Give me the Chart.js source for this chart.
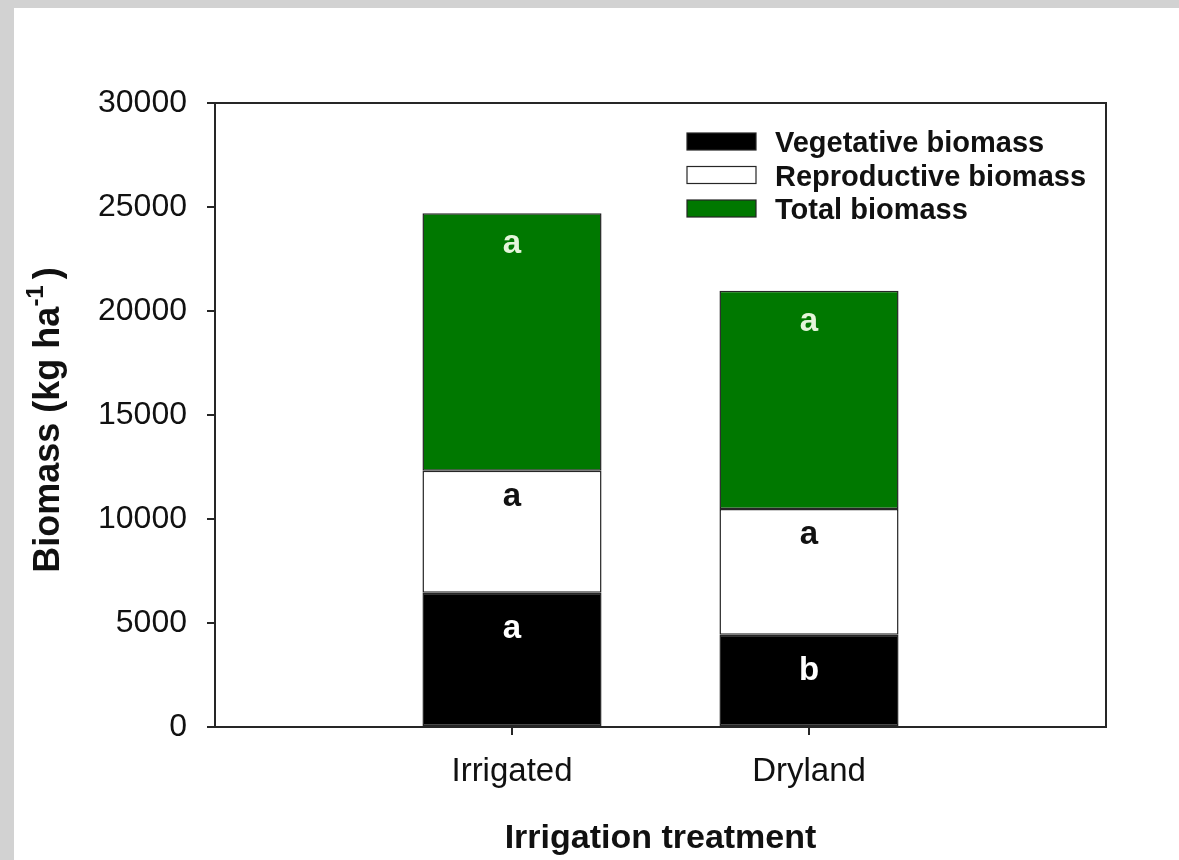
<!DOCTYPE html>
<html>
<head>
<meta charset="utf-8">
<script src="https://cdn.jsdelivr.net/npm/chart.js@4/dist/chart.umd.min.js"></script>
<style>
  html, body { margin: 0; padding: 0; background: #ffffff; }
  #wrap { width: 1179px; height: 860px; position: relative; }
  canvas { display: block; }
</style>
</head>
<body>
<div id="wrap"><canvas id="c" width="1179" height="860"></canvas></div>
<script>
// ---- data ----
const categories = ['', 'Irrigated', 'Dryland', ''];
const vegetative = [null, 6450, 4440, null];
const reproductive = [null, 5870, 6040, null];
const total = [null, 12380, 10490, null];
const vegLetters = ['', 'a', 'b', ''];
const repLetters = ['', 'a', 'a', ''];
const totLetters = ['', 'a', 'a', ''];
const yTicks = [0, 5000, 10000, 15000, 20000, 25000, 30000];
const seriesNames = ['Vegetative biomass', 'Reproductive biomass', 'Total biomass'];
const xTitle = 'Irrigation treatment';

const FONT = "'Liberation Sans', Arial, sans-serif";
const LINE = '#262626';

const bgPlugin = {
  id: 'bg',
  beforeDraw(chart) {
    const ctx = chart.ctx;
    ctx.save();
    ctx.fillStyle = '#ffffff';
    ctx.fillRect(0, 0, chart.width, chart.height);
    ctx.fillStyle = '#d2d2d2';
    ctx.fillRect(0, 0, chart.width, 8);
    ctx.fillRect(0, 0, 14, chart.height);
    ctx.restore();
  }
};

const framePlugin = {
  id: 'frame',
  afterDatasetsDraw(chart) {
    const ctx = chart.ctx, a = chart.chartArea;
    ctx.save();
    ctx.strokeStyle = LINE;
    ctx.lineWidth = 2;
    ctx.beginPath();
    ctx.moveTo(a.left, a.top);
    ctx.lineTo(a.right, a.top);
    ctx.lineTo(a.right, a.bottom);
    ctx.stroke();
    ctx.restore();
  }
};

const letterPlugin = {
  id: 'letters',
  afterDatasetsDraw(chart) {
    const ctx = chart.ctx;
    const sets = [
      { letters: vegLetters, color: '#ffffff', off: 45 },
      { letters: repLetters, color: '#111111', off: 35 },
      { letters: totLetters, color: '#e4f5da', off: 40 }
    ];
    ctx.save();
    ctx.font = 'bold 33px ' + FONT;
    ctx.textAlign = 'center';
    ctx.textBaseline = 'alphabetic';
    sets.forEach((s, di) => {
      const meta = chart.getDatasetMeta(di);
      meta.data.forEach((el, i) => {
        if (!s.letters[i]) return;
        ctx.fillStyle = s.color;
        ctx.fillText(s.letters[i], el.x, el.y + s.off);
      });
    });
    ctx.restore();
  }
};

const legendPlugin = {
  id: 'customLegend',
  afterDraw(chart) {
    const ctx = chart.ctx, a = chart.chartArea;
    const x0 = a.left + 472, y0 = a.top + 30;
    ctx.save();
    ctx.font = 'bold 29px ' + FONT;
    ctx.textAlign = 'left';
    ctx.textBaseline = 'alphabetic';
    chart.data.datasets.forEach((ds, i) => {
      const y = y0 + i * 33.5;
      ctx.fillStyle = ds.backgroundColor;
      ctx.fillRect(x0, y, 69, 17);
      ctx.strokeStyle = LINE;
      ctx.lineWidth = 1.2;
      ctx.strokeRect(x0, y, 69, 17);
      ctx.fillStyle = '#111111';
      ctx.fillText(ds.label, x0 + 88, y + 19);
    });
    ctx.restore();
  }
};

const titlePlugin = {
  id: 'axisTitles',
  afterDraw(chart) {
    const ctx = chart.ctx, a = chart.chartArea;
    ctx.save();
    ctx.fillStyle = '#111111';
    // x title
    ctx.font = 'bold 34px ' + FONT;
    ctx.textAlign = 'center';
    ctx.textBaseline = 'alphabetic';
    ctx.fillText(xTitle, (a.left + a.right) / 2, 848);
    // y title with superscript
    const main = 'Biomass (kg ha', sup = '-1', close = ')';
    const mainFont = 'bold 36px ' + FONT, supFont = 'bold 24px ' + FONT;
    ctx.font = mainFont; const w1 = ctx.measureText(main).width;
    const w3 = ctx.measureText(close).width;
    ctx.font = supFont; const w2 = ctx.measureText(sup).width;
    const tot = w1 + w2 + 6 + w3;
    const cy = (a.top + a.bottom) / 2 + 5;
    ctx.translate(59, cy);
    ctx.rotate(-Math.PI / 2);
    ctx.textAlign = 'left';
    let x = -tot / 2;
    ctx.font = mainFont; ctx.fillText(main, x, 0); x += w1;
    ctx.font = supFont; ctx.fillText(sup, x, -16); x += w2 + 6;
    ctx.font = mainFont; ctx.fillText(close, x, 0);
    ctx.restore();
  }
};

new Chart(document.getElementById('c'), {
  type: 'bar',
  data: {
    labels: categories,
    datasets: [
      { label: seriesNames[0], data: vegetative, backgroundColor: '#000000', borderColor: LINE, borderWidth: 1.5, borderSkipped: false },
      { label: seriesNames[1], data: reproductive, backgroundColor: '#ffffff', borderColor: LINE, borderWidth: 1.5, borderSkipped: false },
      { label: seriesNames[2], data: total, backgroundColor: '#007800', borderColor: LINE, borderWidth: 1.5, borderSkipped: false }
    ]
  },
  options: {
    responsive: false,
    animation: false,
    devicePixelRatio: 1,
    layout: { padding: { top: 103, right: 73, left: 0, bottom: 0 } },
    datasets: { bar: { categoryPercentage: 1.0, barPercentage: 0.603 } },
    plugins: { legend: { display: false }, tooltip: { enabled: false }, title: { display: false } },
    scales: {
      x: {
        stacked: true,
        offset: false,
        afterFit(s) { s.height = 133; },
        border: { display: true, color: LINE, width: 2 },
        grid: {
          offset: false,
          drawOnChartArea: false, drawTicks: true, tickLength: 8, lineWidth: 2,
          color: (c) => (categories[c.index] ? LINE : 'rgba(0,0,0,0)')
        },
        ticks: { font: { family: FONT, size: 33 }, color: '#111111', padding: 17, maxRotation: 0, autoSkip: false }
      },
      y: {
        stacked: true,
        min: 0, max: 30000,
        afterFit(s) { s.width = 215; },
        afterBuildTicks(s) { s.ticks = yTicks.map(v => ({ value: v })); },
        border: { display: true, color: LINE, width: 2 },
        grid: { drawOnChartArea: false, drawTicks: true, tickLength: 8, color: LINE, lineWidth: 2 },
        ticks: { font: { family: FONT, size: 32 }, color: '#111111', padding: 20, callback: (v) => String(v) }
      }
    }
  },
  plugins: [bgPlugin, framePlugin, letterPlugin, legendPlugin, titlePlugin]
});
</script>
</body>
</html>
